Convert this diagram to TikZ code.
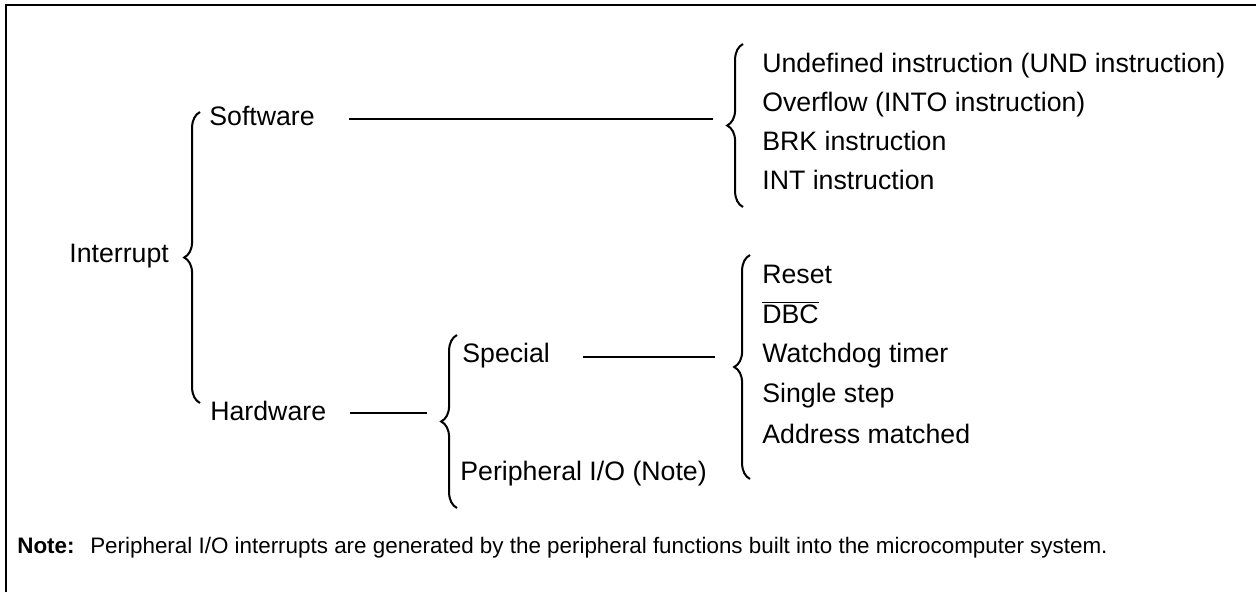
\documentclass[tikz,border=0pt]{standalone}
\usepackage{fontspec}
\setmainfont{Liberation Sans}
\usetikzlibrary{decorations.pathreplacing}
\tikzstyle{curly}=[line width=1.15pt,decorate,decoration={brace,amplitude=9pt}]
\tikzstyle{entry}=[anchor=base west,inner sep=0pt,font=\fontsize{15.2}{18}\selectfont]
\tikzstyle{wire}=[line width=1.15pt]

\begin{document}
\begin{tikzpicture}[x=0.02cm,y=-0.02cm]
    \useasboundingbox (0,0) rectangle (1256,592);
    \draw[line width=1.4pt] (6,592) -- (6,5) -- (1256,5);
    % first level
    \node[entry] (intr) at (69,262) {Interrupt};
    \coordinate (b1top) at (200,112);
    \coordinate (b1bot) at (200,403);
    \draw[curly] (b1bot) -- (b1top);
    \node[entry] (sw) at (209,125) {Software};
    \node[entry] (hw) at (210,420) {Hardware};
    % software sources
    \coordinate (swA) at (349,119);
    \coordinate (swB) at (713,119);
    \draw[wire] (swA) -- (swB);
    \coordinate (b2top) at (743,44);
    \coordinate (b2bot) at (743,207);
    \draw[curly] (b2bot) -- (b2top);
    \node[entry] (und) at (762,72) {Undefined instruction (UND instruction)};
    \node[entry] (into) at (762,111) {Overflow (INTO instruction)};
    \node[entry] (brk) at (762,150) {BRK instruction};
    \node[entry] (int) at (762,189) {INT instruction};
    % hardware sources
    \coordinate (hwA) at (350,413);
    \coordinate (hwB) at (427,413);
    \draw[wire] (hwA) -- (hwB);
    \coordinate (b3top) at (457,335);
    \coordinate (b3bot) at (457,508);
    \draw[curly] (b3bot) -- (b3top);
    \node[entry] (spc) at (462,362) {Special};
    \node[entry] (per) at (460,480) {Peripheral I/O (Note)};
    \coordinate (spA) at (583,357);
    \coordinate (spB) at (715,357);
    \draw[wire] (spA) -- (spB);
    \coordinate (b4top) at (750,255);
    \coordinate (b4bot) at (750,479);
    \draw[curly] (b4bot) -- (b4top);
    \node[entry] (rst) at (762,283) {Reset};
    \node[entry] (dbc) at (762,323) {$\overline{\hbox{DBC}}$};
    \node[entry] (wdt) at (762,362) {Watchdog timer};
    \node[entry] (sst) at (762,402) {Single step};
    \node[entry] (adr) at (762,443) {Address matched};
    % footnote
    \node[entry,font=\fontsize{12.75}{16}\selectfont] (note) at (17,553) {\textbf{Note:}\hspace{0.7em}Peripheral I/O interrupts are generated by the peripheral functions built into the microcomputer system.};
\end{tikzpicture}
\end{document}
